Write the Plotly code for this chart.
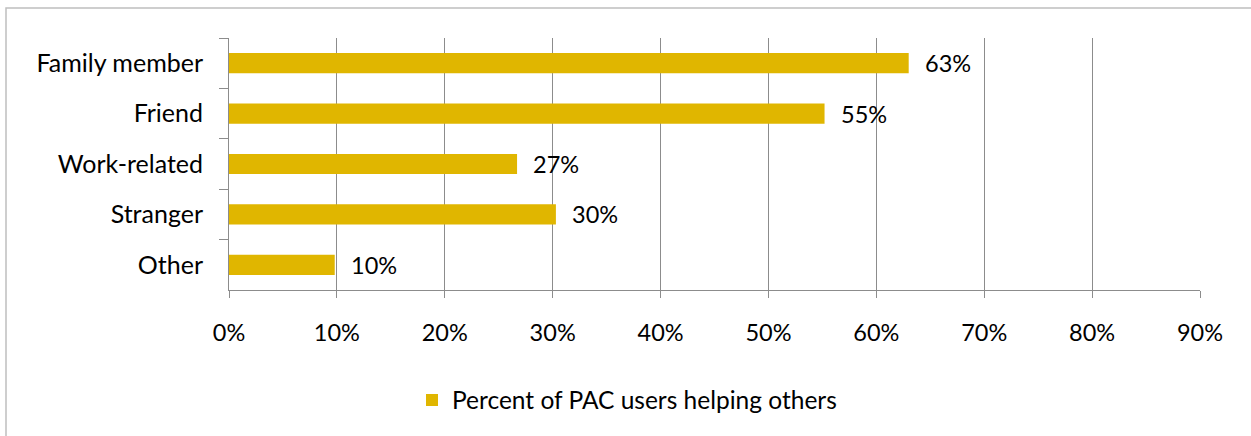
import plotly.graph_objects as go

categories = ["Family member", "Friend", "Work-related", "Stranger", "Other"]
values = [63.0, 55.2, 26.7, 30.3, 9.8]
value_labels = ["63%", "55%", "27%", "30%", "10%"]
tick_vals = [0, 10, 20, 30, 40, 50, 60, 70, 80, 90]
tick_text = [f"{v}%" for v in tick_vals]
series_name = "Percent of PAC users helping others"

BAR = "#E0B600"
GRID = "#8C8C8C"
FONT = "Lato"

W, H = 1251, 436
L, R, T, B = 229, 51, 38, 146
pw, ph = W - L - R, H - T - B

fig = go.Figure()
fig.add_trace(go.Bar(
    x=values, y=categories, orientation="h",
    marker=dict(color=BAR, line=dict(width=0)),
    name=series_name, showlegend=True,
))

for c, v, t in zip(categories, values, value_labels):
    fig.add_annotation(x=v, y=c, text=t, showarrow=False,
                       xanchor="left", xshift=14, font=dict(family=FONT, size=23.5, color="#000"))

def px_x(p):
    return (p - L) / pw

def px_y(p):
    return (H - B - p) / ph

fig.add_shape(type="rect", xref="paper", yref="paper",
              x0=px_x(6), x1=px_x(1262), y0=px_y(448), y1=px_y(8),
              line=dict(color="#BFBFBF", width=1.5), fillcolor="rgba(0,0,0,0)", layer="below")

fig.update_layout(
    width=W, height=H,
    margin=dict(l=L, r=R, t=T, b=B, autoexpand=False),
    paper_bgcolor="white", plot_bgcolor="white",
    font=dict(family=FONT, size=23.5, color="#000"),
    bargap=0.6,
    showlegend=True,
    legend=dict(orientation="h", x=px_x(412), xanchor="left", y=px_y(400), yanchor="middle",
                font=dict(family=FONT, size=24.5, color="#000"), bgcolor="rgba(0,0,0,0)"),
    xaxis=dict(range=[0, 90], tickvals=tick_vals, ticktext=tick_text,
               showgrid=True, gridcolor=GRID, gridwidth=1, zeroline=False,
               showline=True, linecolor=GRID, linewidth=1,
               ticks="outside", ticklen=7, tickcolor=GRID, ticklabelstandoff=15,
               tickfont=dict(family=FONT, size=23.5, color="#000"),
               fixedrange=True),
    yaxis=dict(categoryorder="array", categoryarray=categories, autorange="reversed",
               showgrid=False, showline=True, linecolor=GRID, linewidth=1,
               ticks="outside", ticklen=9, tickcolor=GRID, tickson="boundaries",
               ticklabelstandoff=20, zeroline=False, fixedrange=True,
               tickfont=dict(family=FONT, size=25, color="#000")),
)

fig.write_html("out.html", config={"displayModeBar": False},
               post_script="document.body.style.margin='0';")
